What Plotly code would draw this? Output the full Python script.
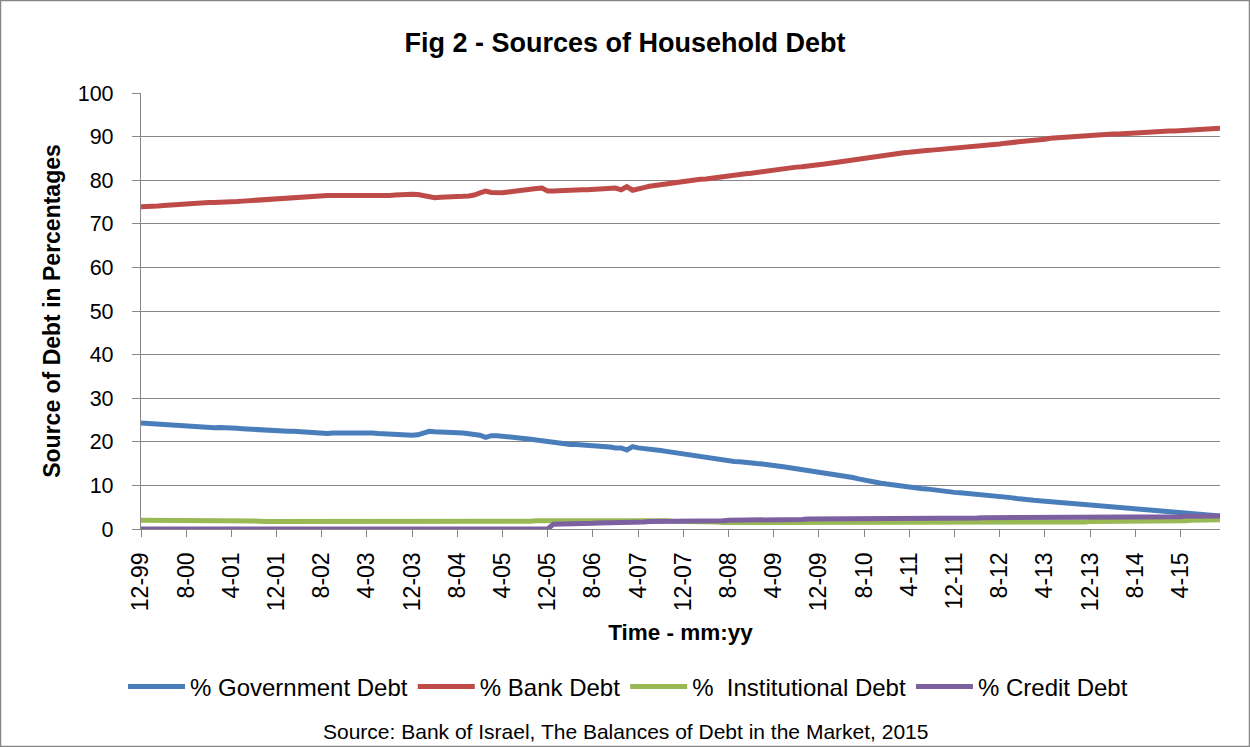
import plotly.graph_objects as go

# ---------------- data (monthly, 12-99 .. 11-15) ----------------
month_labels = []
_m, _y = 12, 1999
for _ in range(192):
    month_labels.append(f"{_m}-{_y % 100:02d}")
    _m += 1
    if _m > 12:
        _m, _y = 1, _y + 1

tick_labels = ["12-99", "8-00", "4-01", "12-01", "8-02", "4-03", "12-03", "8-04",
               "4-05", "12-05", "8-06", "4-07", "12-07", "8-08", "4-09", "12-09",
               "8-10", "4-11", "12-11", "8-12", "4-13", "12-13", "8-14", "4-15"]

gov_debt = [
    24.3, 24.2, 24.1, 24.0, 23.9, 23.8, 23.7, 23.6, 23.5, 23.4, 23.4, 23.3,
    23.2, 23.2, 23.3, 23.3, 23.2, 23.1, 23.0, 22.9, 22.8, 22.7, 22.6, 22.6,
    22.5, 22.5, 22.4, 22.4, 22.3, 22.1, 22.0, 22.0, 21.9, 21.9, 22.0, 22.0,
    22.0, 22.1, 22.2, 22.1, 22.1, 22.0, 21.9, 21.8, 21.7, 21.6, 21.6, 21.5,
    21.5, 21.6, 22.0, 22.4, 22.3, 22.3, 22.2, 22.2, 22.1, 22.0, 21.9, 21.7,
    21.5, 21.0, 21.4, 21.4, 21.3, 21.2, 21.0, 20.8, 20.7, 20.6, 20.4, 20.2,
    20.0, 19.8, 19.6, 19.5, 19.4, 19.4, 19.3, 19.3, 19.3, 19.2, 19.0, 18.8,
    18.6, 18.6, 18.1, 18.9, 18.6, 18.5, 18.3, 18.1, 18.0, 17.8, 17.6, 17.4,
    17.2, 17.0, 16.8, 16.7, 16.5, 16.2, 15.9, 15.7, 15.5, 15.5, 15.4, 15.2,
    15.1, 15.0, 14.9, 14.8, 14.6, 14.4, 14.2, 14.0, 13.8, 13.7, 13.5, 13.3,
    13.1, 12.9, 12.7, 12.6, 12.4, 12.1, 11.8, 11.5, 11.2, 11.0, 10.7, 10.5,
    10.3, 10.1, 9.9, 9.8, 9.6, 9.5, 9.3, 9.2, 9.0, 8.8, 8.6, 8.5,
    8.4, 8.3, 8.2, 8.1, 8.0, 7.8, 7.7, 7.6, 7.4, 7.3, 7.2, 7.0,
    6.8, 6.7, 6.6, 6.5, 6.4, 6.3, 6.2, 6.1, 6.0, 5.9, 5.8, 5.6,
    5.5, 5.4, 5.3, 5.2, 5.1, 5.0, 4.9, 4.8, 4.7, 4.6, 4.5, 4.4,
    4.3, 4.2, 4.1, 3.9, 3.8, 3.7, 3.5, 3.4, 3.3, 3.2, 3.1, 3.0,
]

bank_debt = [
    73.9, 73.9, 74.0, 74.1, 74.2, 74.3, 74.5, 74.6, 74.7, 74.7, 74.8, 74.8,
    74.9, 74.9, 74.9, 74.9, 75.0, 75.1, 75.2, 75.3, 75.4, 75.5, 75.6, 75.7,
    75.8, 75.8, 75.9, 76.0, 76.1, 76.3, 76.4, 76.4, 76.5, 76.5, 76.5, 76.5,
    76.4, 76.4, 76.3, 76.3, 76.3, 76.3, 76.4, 76.4, 76.5, 76.6, 76.7, 76.8,
    76.8, 76.7, 76.4, 76.1, 76.0, 76.1, 76.1, 76.2, 76.2, 76.3, 76.4, 76.6,
    77.1, 77.5, 77.2, 77.1, 77.1, 77.3, 77.5, 77.7, 77.8, 77.9, 78.1, 78.2,
    77.5, 77.5, 77.6, 77.6, 77.7, 77.8, 77.8, 77.8, 77.9, 78.0, 78.2, 78.3,
    78.2, 77.8, 78.5, 77.7, 78.1, 78.3, 78.6, 78.8, 79.0, 79.2, 79.4, 79.6,
    79.7, 79.9, 80.0, 80.2, 80.3, 80.5, 80.7, 80.8, 81.0, 81.1, 81.3, 81.5,
    81.6, 81.8, 81.9, 82.0, 82.2, 82.4, 82.6, 82.8, 83.0, 83.1, 83.2, 83.4,
    83.5, 83.7, 83.9, 84.1, 84.3, 84.5, 84.7, 84.8, 85.0, 85.2, 85.4, 85.6,
    85.7, 85.9, 86.1, 86.3, 86.4, 86.6, 86.7, 86.8, 86.9, 87.0, 87.1, 87.3,
    87.4, 87.5, 87.6, 87.7, 87.8, 87.9, 88.0, 88.2, 88.3, 88.5, 88.6, 88.8,
    88.9, 89.1, 89.2, 89.3, 89.4, 89.6, 89.7, 89.9, 90.0, 90.1, 90.2, 90.3,
    90.4, 90.4, 90.5, 90.5, 90.6, 90.6, 90.7, 90.8, 90.8, 90.9, 91.0, 91.0,
    91.1, 91.2, 91.3, 91.3, 91.4, 91.5, 91.6, 91.7, 91.8, 91.8, 91.9, 91.9,
]

institutional_debt = [
    2.0, 2.0, 2.0, 2.0, 2.0, 2.0, 1.9, 1.9, 1.9, 1.9, 1.9, 1.9,
    1.9, 1.9, 1.9, 1.9, 1.9, 1.8, 1.8, 1.8, 1.8, 1.8, 1.7, 1.7,
    1.7, 1.7, 1.7, 1.6, 1.6, 1.6, 1.6, 1.6, 1.6, 1.6, 1.6, 1.7,
    1.7, 1.7, 1.7, 1.7, 1.7, 1.7, 1.7, 1.7, 1.7, 1.7, 1.7, 1.7,
    1.7, 1.7, 1.7, 1.7, 1.7, 1.7, 1.7, 1.7, 1.7, 1.7, 1.7, 1.7,
    1.7, 1.7, 1.7, 1.8, 1.8, 1.8, 1.8, 1.8, 1.8, 1.8, 1.9, 1.9,
    1.9, 1.9, 1.9, 1.9, 2.0, 2.0, 2.0, 2.0, 2.0, 2.0, 2.0, 2.1,
    2.1, 2.1, 2.1, 2.1, 2.0, 2.0, 2.0, 1.9, 1.9, 1.9, 1.8, 1.8,
    1.8, 1.7, 1.7, 1.7, 1.6, 1.6, 1.6, 1.5, 1.5, 1.5, 1.5, 1.5,
    1.5, 1.5, 1.5, 1.5, 1.5, 1.4, 1.4, 1.4, 1.4, 1.4, 1.4, 1.4,
    1.4, 1.4, 1.4, 1.4, 1.4, 1.4, 1.4, 1.4, 1.4, 1.4, 1.4, 1.4,
    1.4, 1.4, 1.4, 1.4, 1.4, 1.4, 1.4, 1.4, 1.4, 1.4, 1.4, 1.4,
    1.4, 1.4, 1.4, 1.4, 1.4, 1.4, 1.5, 1.5, 1.5, 1.5, 1.5, 1.5,
    1.5, 1.5, 1.5, 1.5, 1.5, 1.6, 1.6, 1.6, 1.6, 1.6, 1.6, 1.6,
    1.7, 1.7, 1.7, 1.7, 1.7, 1.7, 1.8, 1.8, 1.8, 1.8, 1.8, 1.8,
    1.9, 1.9, 1.9, 1.9, 1.9, 1.9, 2.0, 2.0, 2.0, 2.0, 2.0, 2.1,
]

credit_debt = [
    0.0, 0.0, 0.0, 0.0, 0.0, 0.0, 0.0, 0.0, 0.0, 0.0, 0.0, 0.0,
    0.0, 0.0, 0.0, 0.0, 0.0, 0.0, 0.0, 0.0, 0.0, 0.0, 0.0, 0.0,
    0.0, 0.0, 0.0, 0.0, 0.0, 0.0, 0.0, 0.0, 0.0, 0.0, 0.0, 0.0,
    0.0, 0.0, 0.0, 0.0, 0.0, 0.0, 0.0, 0.0, 0.0, 0.0, 0.0, 0.0,
    0.0, 0.0, 0.0, 0.0, 0.0, 0.0, 0.0, 0.0, 0.0, 0.0, 0.0, 0.0,
    0.0, 0.0, 0.0, 0.0, 0.0, 0.0, 0.0, 0.0, 0.0, 0.0, 0.0, 0.0,
    0.0, 1.1, 1.1, 1.2, 1.2, 1.2, 1.3, 1.3, 1.3, 1.4, 1.4, 1.4,
    1.5, 1.5, 1.5, 1.6, 1.6, 1.6, 1.7, 1.7, 1.7, 1.7, 1.8, 1.8,
    1.8, 1.8, 1.8, 1.9, 1.9, 1.9, 1.9, 1.9, 2.0, 2.0, 2.0, 2.0,
    2.0, 2.0, 2.0, 2.1, 2.1, 2.1, 2.1, 2.2, 2.2, 2.2, 2.3, 2.3,
    2.3, 2.3, 2.4, 2.4, 2.4, 2.4, 2.4, 2.5, 2.5, 2.5, 2.5, 2.5,
    2.5, 2.5, 2.5, 2.5, 2.5, 2.5, 2.5, 2.5, 2.5, 2.5, 2.5, 2.5,
    2.5, 2.5, 2.5, 2.5, 2.5, 2.6, 2.6, 2.6, 2.6, 2.6, 2.6, 2.6,
    2.6, 2.6, 2.6, 2.6, 2.6, 2.6, 2.6, 2.6, 2.6, 2.6, 2.6, 2.6,
    2.6, 2.6, 2.6, 2.6, 2.7, 2.7, 2.7, 2.7, 2.7, 2.7, 2.7, 2.7,
    2.8, 2.8, 2.8, 2.8, 2.8, 2.9, 2.9, 2.9, 2.9, 3.0, 3.0, 3.0,
]

series_names = ["% Government Debt", "% Bank Debt", "%  Institutional Debt", "% Credit Debt"]
series_values = [gov_debt, bank_debt, institutional_debt, credit_debt]
series_colors = ["#4A7EBB", "#BE4B48", "#98B954", "#7D60A0"]

# ---------------- layout constants ----------------
W, H = 1250, 747
ML, MR, MT, MB = 141, 30, 93, 218
PW, PH = W - ML - MR, H - MT - MB
FONT = "Liberation Sans, Arial, sans-serif"
GRID = "#878787"

fig = go.Figure()
for name, vals, col in zip(series_names, series_values, series_colors):
    fig.add_trace(go.Scatter(x=month_labels, y=vals, mode="lines", name=name,
                             line=dict(color=col, width=5)))

fig.update_layout(
    width=W, height=H,
    margin=dict(l=ML, r=MR, t=MT, b=MB, autoexpand=False),
    paper_bgcolor="white", plot_bgcolor="white",
    font=dict(family=FONT, color="black"),
    title=dict(text="Fig 2 - Sources of Household Debt", xref="container", x=0.5,
               xanchor="center", yref="container", y=1 - 43 / H, yanchor="middle",
               font=dict(size=27, weight="bold", family=FONT, color="black")),
    showlegend=True,
    legend=dict(orientation="h", xref="container", x=628 / W, xanchor="center",
                yref="container", y=1 - 687 / H, yanchor="middle",
                font=dict(size=24, family=FONT, color="black"),
                itemwidth=57, bgcolor="rgba(0,0,0,0)", traceorder="normal"),
)

fig.update_xaxes(
    type="category", range=[0, len(month_labels) - 1],
    tickmode="array", tickvals=tick_labels, ticktext=tick_labels,
    tickangle=-90, ticks="outside", ticklen=7, tickcolor=GRID, tickwidth=1.3,
    ticklabelstandoff=6,
    showline=True, linecolor=GRID, linewidth=1.3, showgrid=False, zeroline=False,
    tickfont=dict(size=23, family=FONT, color="black"),
    title=dict(text="Time - mm:yy", standoff=14,
               font=dict(size=22.5, weight="bold", family=FONT, color="black")),
    automargin=False,
)
fig.update_yaxes(
    range=[0, 100], dtick=10, tick0=0,
    ticks="outside", ticklen=8, tickcolor=GRID, tickwidth=1.3,
    ticklabelstandoff=14,
    showline=True, linecolor=GRID, linewidth=1.3,
    showgrid=True, gridcolor=GRID, gridwidth=1.3, zeroline=False,
    tickfont=dict(size=21.5, family=FONT, color="black"),
    title=dict(text="Source of Debt in Percentages", standoff=10,
               font=dict(size=23, weight="bold", family=FONT, color="black")),
    automargin=False,
)

# source note below the legend
fig.add_annotation(text="Source: Bank of Israel, The Balances of Debt in the Market, 2015",
                   xref="paper", yref="paper", x=(625 - ML) / PW, y=(H - MB - 731) / PH,
                   xanchor="center", yanchor="middle", showarrow=False,
                   font=dict(size=21, family=FONT, color="black"))

# outer chart border
fig.add_shape(type="rect", xref="paper", yref="paper",
              x0=(0.5 - ML) / PW, x1=(W - 0.5 - ML) / PW,
              y0=-(MB - 0.5) / PH, y1=1 + (MT - 0.5) / PH,
              line=dict(color="#868686", width=1.5), fillcolor="rgba(0,0,0,0)", layer="below")

fig.write_html("out.html", config={"displayModeBar": False},
               post_script="document.body.style.margin='0';document.body.style.padding='0';")
